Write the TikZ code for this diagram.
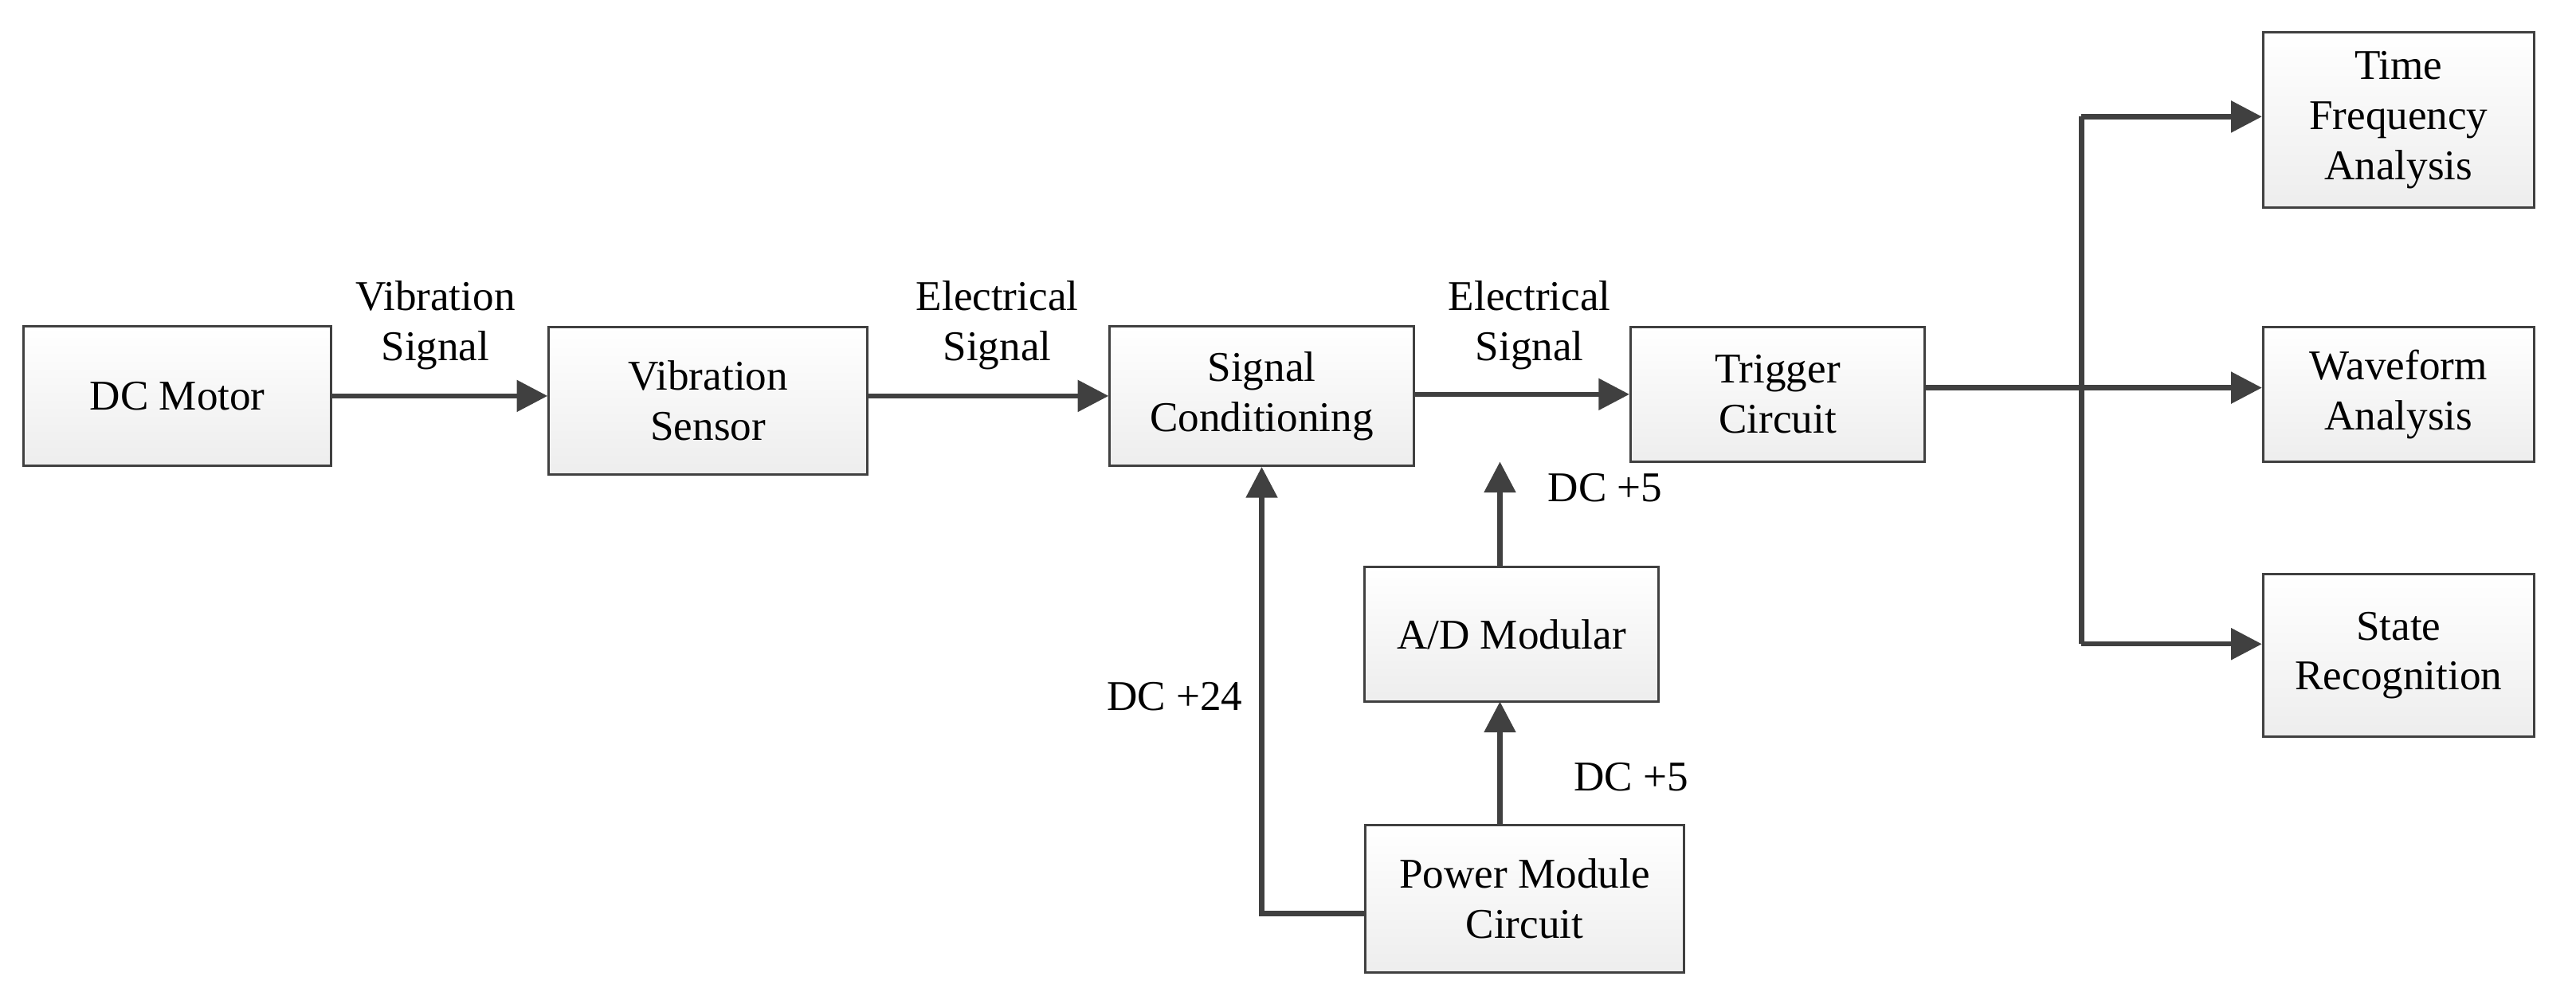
\documentclass[tikz,border=0pt]{standalone}
\usepackage{fontspec}
\setmainfont{Liberation Serif}
\usetikzlibrary{arrows.meta}
\definecolor{ln}{HTML}{404040}
\begin{document}
\begin{tikzpicture}[x=0.03cm,y=-0.03cm,
  box/.style={draw=ln,line width=1.2pt,top color=white,bottom color=black!7,align=center,
     font=\fontsize{22}{26}\selectfont,inner sep=0pt},
  lab/.style={align=center,font=\fontsize{22}{26}\selectfont},
  ar/.style={draw=ln,line width=2.6pt,-{Triangle[length=16pt,width=16pt]}},
  ln/.style={draw=ln,line width=2.6pt}]
\useasboundingbox (0,0) rectangle (1568,606);
\node[box,minimum width=187*0.03cm,minimum height=85*0.03cm] (dc) at (108,241) {DC Motor};
\node[box,minimum width=194*0.03cm,minimum height=90*0.03cm] (vs) at (431,244) {Vibration\\Sensor};
\node[box,minimum width=185*0.03cm,minimum height=85*0.03cm] (sc) at (768,241) {Signal\\Conditioning};
\node[box,minimum width=179*0.03cm,minimum height=82*0.03cm] (tc) at (1082,240) {Trigger\\Circuit};
\node[box,minimum width=165*0.03cm,minimum height=107*0.03cm] (tf) at (1460,73) {Time\\Frequency\\Analysis};
\node[box,minimum width=165*0.03cm,minimum height=82*0.03cm] (wa) at (1460,240) {Waveform\\Analysis};
\node[box,minimum width=165*0.03cm,minimum height=99*0.03cm] (sr) at (1460,399) {State\\Recognition};
\node[box,minimum width=179*0.03cm,minimum height=82*0.03cm] (ad) at (920,386) {A/D Modular};
\node[box,minimum width=194*0.03cm,minimum height=90*0.03cm] (pm) at (928,547) {Power Module\\Circuit};
\coordinate (br) at (1267,236);
\coordinate (pc) at (768,556);
\draw[ar] (dc.east |- 0,241) -- (vs.west |- 0,241);
\draw[ar] (vs.east |- 0,241) -- (sc.west |- 0,241);
\draw[ar] (sc.east |- 0,240) -- (tc.west |- 0,240);
\draw[ar] (913,345) -- (913,281);
\draw[ar] (913,502) -- (913,427);
\draw[ar] (pm.west |- 0,556) -- (pc) -- (sc.south);
\draw[ln] (tc.east |- br) -- (br);
\draw[ln] (1267,71) -- (1267,392);
\draw[ar] (1267,71) -- (tf.west |- 0,71);
\draw[ar] (br) -- (wa.west |- br);
\draw[ar] (1267,392) -- (sr.west |- 0,392);
\node[lab] (l1) at (265,198) {Vibration\\Signal};
\node[lab] (l2) at (607,198) {Electrical\\Signal};
\node[lab] (l3) at (931,198) {Electrical\\Signal};
\node[lab] (l4) at (977,297) {DC +5};
\node[lab] (l5) at (993,473) {DC +5};
\node[lab] (l6) at (715,424) {DC +24};
\end{tikzpicture}
\end{document}
